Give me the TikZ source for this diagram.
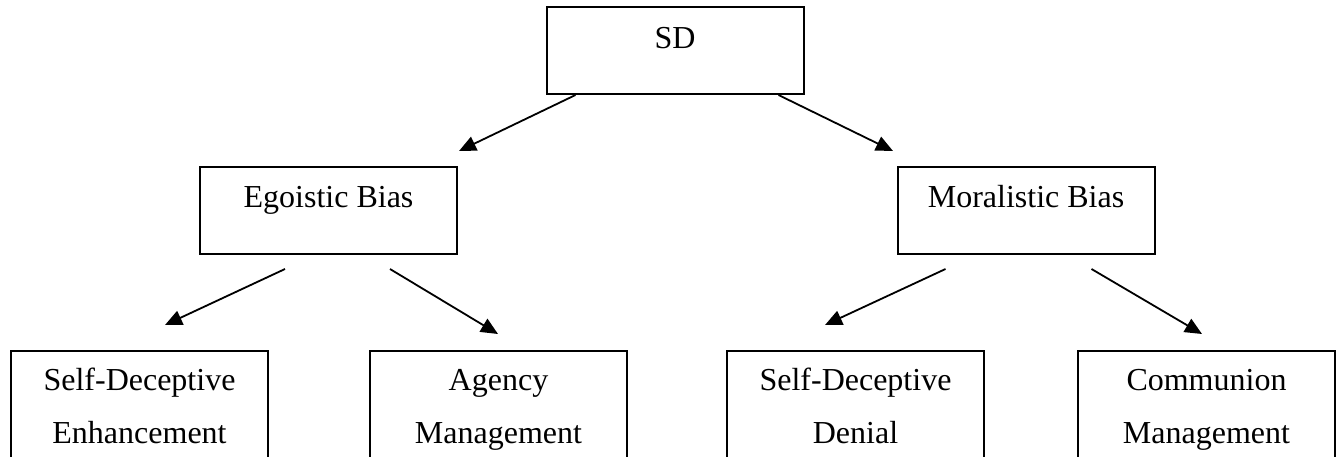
\documentclass[tikz,border=0pt]{standalone}
\usepackage{fontspec}
\setmainfont{Liberation Serif}
\usetikzlibrary{arrows.meta,calc}
\begin{document}
\begin{tikzpicture}[x=1pt,y=-1pt,
  box/.style={draw=black,line width=2pt,rectangle,inner sep=0pt,minimum width=257pt},
  midbox/.style={box,minimum height=87pt},
  lowbox/.style={box,minimum height=140pt},
  lbl/.style={anchor=base,inner sep=0pt,font=\fontsize{32pt}{38pt}\selectfont},
  arr/.style={line width=1.8pt,-{Triangle[length=17pt,width=15pt]}}]
\useasboundingbox (0,0) rectangle (1338,456);
\clip (0,0) rectangle (1338,456);
% boxes
\node[midbox] (sd)  at (675,50.5) {};
\node[midbox] (ego) at (328.5,210.5) {};
\node[midbox] (mor) at (1026,210.5) {};
\node[lowbox] (sde) at (139.5,421) {};
\node[lowbox] (am)  at (498.5,421) {};
\node[lowbox] (sdd) at (855.5,421) {};
\node[lowbox] (cm)  at (1206.5,421) {};
% labels
\node[lbl] (sdt)  at (675,48) {SD};
\node[lbl] (egot) at (328.5,207) {Egoistic Bias};
\node[lbl] (mort) at (1026,207) {Moralistic Bias};
\node[lbl] (sde1) at (139.5,390) {Self-Deceptive};
\node[lbl] (sde2) at (139.5,443) {Enhancement};
\node[lbl] (am1)  at (498.5,390) {Agency};
\node[lbl] (am2)  at (498.5,443) {Management};
\node[lbl] (sdd1) at (855.5,390) {Self-Deceptive};
\node[lbl] (sdd2) at (855.5,443) {Denial};
\node[lbl] (cm1)  at (1206.5,390) {Communion};
\node[lbl] (cm2)  at (1206.5,443) {Management};
% arrow tips
\coordinate (tego) at (459,151);
\coordinate (tmor) at (893,151);
\coordinate (tsde) at (165,325);
\coordinate (tam)  at (498,334);
\coordinate (tsdd) at (825,325);
\coordinate (tcm)  at (1202,334);
% arrows
\draw[arr] ($(sd.south west)+(30,0)$) -- (tego);
\draw[arr] ($(sd.south east)+(-26,0)$) -- (tmor);
\draw[arr] ($(ego.south west)+(86,14)$) -- (tsde);
\draw[arr] ($(ego.south east)+(-68,14)$) -- (tam);
\draw[arr] ($(mor.south west)+(49,14)$) -- (tsdd);
\draw[arr] ($(mor.south east)+(-64,14)$) -- (tcm);
\end{tikzpicture}
\end{document}
